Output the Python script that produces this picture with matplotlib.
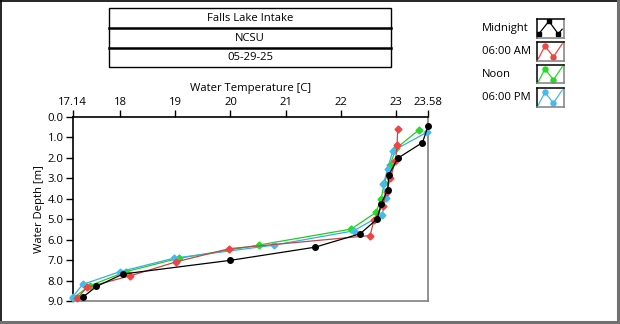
import matplotlib
matplotlib.use("Agg")
import matplotlib.pyplot as plt
from matplotlib.patches import Rectangle
from matplotlib.lines import Line2D

plt.rcParams['font.family'] = ['Open Sans', 'DejaVu Sans']

# Depth profiles (temperature in C, depth in m)
midnight_temp = [23.58, 23.48, 23.03, 22.87, 22.85, 22.73, 22.66, 22.35, 21.53, 20.00, 18.05, 17.57, 17.32]
midnight_depth = [0.45, 1.25, 2.02, 2.84, 3.55, 4.25, 4.99, 5.71, 6.37, 7.01, 7.68, 8.29, 8.82]

am6_temp = [23.03, 23.02, 22.99, 22.90, 22.83, 22.76, 22.60, 22.53, 19.98, 19.02, 18.18, 17.40, 17.22]
am6_depth = [0.59, 1.38, 2.15, 2.97, 3.66, 4.33, 5.06, 5.80, 6.44, 7.08, 7.77, 8.33, 8.87]

noon_temp = [23.41, 23.00, 22.89, 22.79, 22.73, 22.64, 22.19, 20.52, 19.06, 18.10, 17.45, 17.15]
noon_depth = [0.64, 1.54, 2.36, 3.23, 3.99, 4.66, 5.48, 6.26, 6.91, 7.57, 8.25, 8.85]

pm6_temp = [23.56, 22.94, 22.85, 22.77, 22.81, 22.75, 22.23, 20.78, 18.97, 17.99, 17.32, 17.14]
pm6_depth = [0.75, 1.66, 2.53, 3.30, 3.97, 4.78, 5.57, 6.27, 6.91, 7.57, 8.19, 8.80]

x_ticks = [17.14, 18, 19, 20, 21, 22, 23, 23.58]
x_tick_labels = ["17.14", "18", "19", "20", "21", "22", "23", "23.58"]
y_ticks = [0, 1, 2, 3, 4, 5, 6, 7, 8, 9]
y_tick_labels = ["%.1f" % v for v in y_ticks]

header_rows = ["Falls Lake Intake", "NCSU", "05-29-25"]
series_names = ["Midnight", "06:00 AM", "Noon", "06:00 PM"]
series_colors = ["#000000", "#ee4444", "#22dd22", "#44bbee"]
line_colors = ["#000000", "#c04848", "#22cc22", "#3aaee0"]
series_markers = ["o", "D", "D", "D"]

W, H = 620, 324
fig = plt.figure(figsize=(W / 100, H / 100), dpi=100)
fig.patch.set_facecolor("white")

def fx(px):
    return px / W

def fy(py):
    return 1 - py / H

# Panel frame: dark top/left, gray bottom/right
fig.add_artist(Line2D([fx(1), fx(617)], [fy(1), fy(1)], color="black", lw=1.2))
fig.add_artist(Line2D([fx(1), fx(1)], [fy(1), fy(321)], color="black", lw=1.2))
fig.add_artist(Line2D([fx(618), fx(618)], [fy(0), fy(322)], color="#707070", lw=2.2))
fig.add_artist(Line2D([fx(0), fx(618)], [fy(321.5), fy(321.5)], color="#707070", lw=2.2))

# Header table
tx0, tx1 = 109, 391
row_edges = [8, 28.3, 48.3, 67.3]
fig.add_artist(Rectangle((fx(tx0), fy(row_edges[-1])), fx(tx1) - fx(tx0),
                         fy(row_edges[0]) - fy(row_edges[-1]),
                         fill=False, ec="black", lw=1.0))
for yy in row_edges[1:-1]:
    fig.add_artist(Line2D([fx(tx0), fx(tx1)], [fy(yy), fy(yy)], color="black", lw=1.8))
for i, txt in enumerate(header_rows):
    yc = (row_edges[i] + row_edges[i + 1]) / 2
    fig.text(fx((tx0 + tx1) / 2), fy(yc), txt, ha="center", va="center", fontsize=8.1)

# Main axes
ax = fig.add_axes([fx(72.7), fy(301), fx(428) - fx(72.7), fy(117) - fy(301)])
datasets = [(midnight_temp, midnight_depth), (am6_temp, am6_depth),
            (noon_temp, noon_depth), (pm6_temp, pm6_depth)]
order = [2, 3, 1, 0]
for i in order:
    t, d = datasets[i]
    ms = 4.0 if series_markers[i] == "o" else 3.5
    ax.plot(t, d, color=line_colors[i], lw=0.9, marker=series_markers[i],
            markersize=ms, markerfacecolor=series_colors[i],
            markeredgecolor=series_colors[i], clip_on=False, zorder=3 + (i == 0))

ax.set_xlim(17.14, 23.58)
ax.set_ylim(9, 0)
ax.xaxis.tick_top()
ax.xaxis.set_label_position("top")
ax.set_xticks(x_ticks)
ax.set_xticklabels(x_tick_labels)
ax.set_yticks(y_ticks)
ax.set_yticklabels(y_tick_labels)
ax.tick_params(axis="both", direction="out", length=5, width=1, labelsize=8.1,
               pad=1.5, color="black")
ax.set_xlabel("Water Temperature [C]", fontsize=8.1, labelpad=4)
ax.set_ylabel("Water Depth [m]", fontsize=8.1, labelpad=2)
ax.spines["top"].set_color("black")
ax.spines["left"].set_color("black")
ax.spines["right"].set_color("#808080")
ax.spines["bottom"].set_color("#808080")
for s in ax.spines.values():
    s.set_linewidth(1.2)

# Legend with zigzag swatches
row_tops = [19, 42, 65, 88.3]
for i, name in enumerate(series_names):
    top = row_tops[i]
    bot = top + 18.5
    fig.text(fx(482), fy((top + bot) / 2), name, ha="left", va="center", fontsize=8.1)
    sw = fig.add_axes([fx(537), fy(bot), fx(563.5) - fx(537), fy(top) - fy(bot)])
    sw.set_xlim(0, 1)
    sw.set_ylim(0, 1)
    sw.set_xticks([])
    sw.set_yticks([])
    sw.spines["top"].set_color("black")
    sw.spines["left"].set_color("black")
    sw.spines["right"].set_color("#808080")
    sw.spines["bottom"].set_color("#808080")
    for s in sw.spines.values():
        s.set_linewidth(1.1)
    if i == 0:
        zx = [0.07, 0.45, 0.8, 0.95]
        zy = [0.2, 0.88, 0.2, 0.45]
        sw.plot(zx[:3], zy[:3], color="black", lw=0.9, marker="s", markersize=3.2)
        sw.plot(zx[2:], zy[2:], color="black", lw=0.9)
    else:
        zx = [0.05, 0.3, 0.62, 0.95]
        zy = [0.1, 0.78, 0.2, 0.9]
        sw.plot(zx, zy, color=series_colors[i], lw=0.9)
        sw.plot(zx[1:3], zy[1:3], ls="none", marker="o", markersize=3.6,
                color=series_colors[i])

fig.savefig("out.png", dpi=100, facecolor="white")
